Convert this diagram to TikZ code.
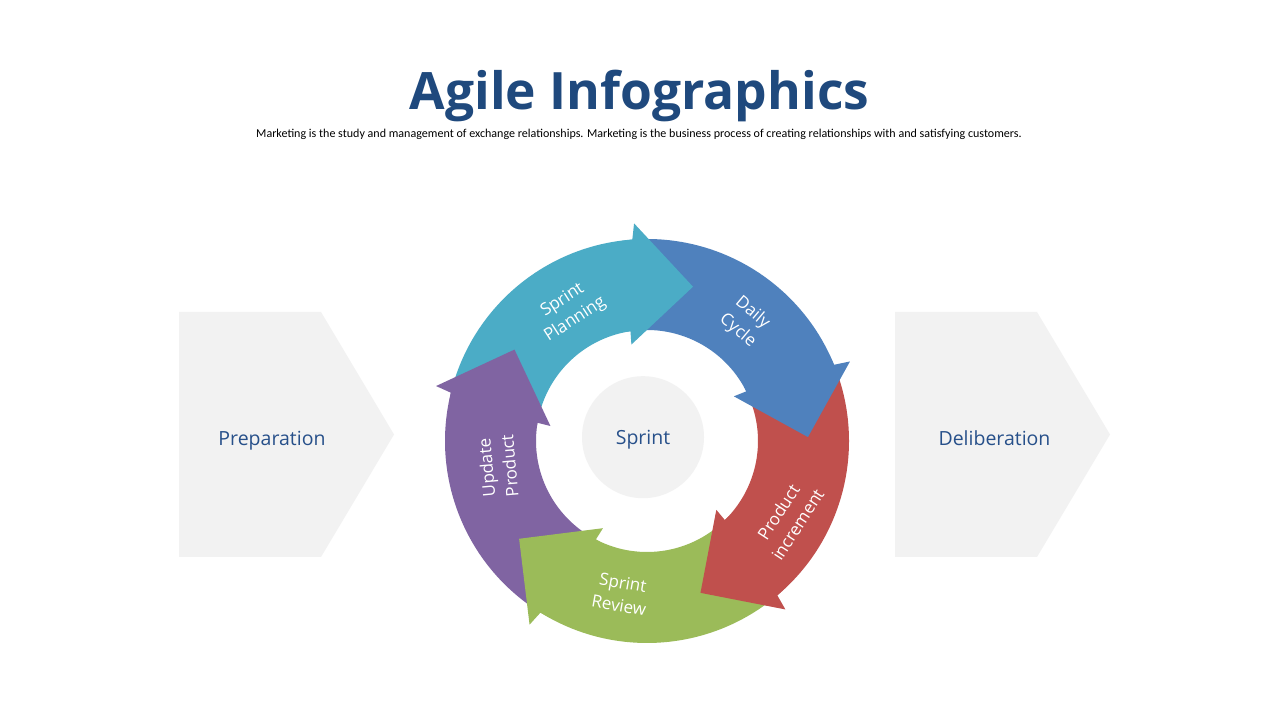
\documentclass[tikz,border=0pt]{standalone}
\usepackage{fontspec}
\setmainfont{Open Sans}
\newfontfamily\subfont{Carlito}
\definecolor{titleblue}{HTML}{1F497D}
\definecolor{labelblue}{HTML}{27508A}
\definecolor{panelgray}{HTML}{F2F2F2}
\definecolor{cyanA}{HTML}{4BACC6}
\definecolor{blueA}{HTML}{4F81BD}
\definecolor{redA}{HTML}{C0504D}
\definecolor{greenA}{HTML}{9BBB59}
\definecolor{purpleA}{HTML}{8064A2}
\tikzset{
  panel/.style={fill=panelgray},
  graylabel/.style={text=labelblue, font=\fontsize{19.5}{23}\selectfont, anchor=base, inner sep=0pt},
  ringlabel/.style={text=white, font=\fontsize{17}{23}\selectfont, align=center, inner sep=0pt}
}
\begin{document}
\begin{tikzpicture}[x=1pt,y=1pt]
\useasboundingbox (0,0) rectangle (1280,720);
\fill[white] (0,0) rectangle (1280,720);

% title and subtitle
\node[text=titleblue, font=\bfseries\fontsize{51.5}{60}\selectfont, anchor=base, inner sep=0pt] (title) at (639.5,610.7) {Agile Infographics};
\node[font=\subfont\fontsize{12.05}{14}\selectfont, anchor=base, inner sep=0pt] (subtitle) at (639,582) {Marketing is the study and management of exchange relationships. Marketing is the business process of creating relationships with and satisfying customers.};

% side panels
\fill[panel] (179,408) -- (321,408) -- (394,285.5) -- (321,163) -- (179,163) -- cycle;
\fill[panel] (895,408) -- (1037,408) -- (1110,285.5) -- (1037,163) -- (895,163) -- cycle;
\node[graylabel] (prep) at (272,274.3) {Preparation};
\node[graylabel] (delib) at (994.5,274.3) {Deliberation};

% circular arrows
\begin{scope}[shift={(647,279)}]
  \foreach \t/\c in {73.4/cyanA, 1.4/blueA, -70.6/redA, -142.6/greenA, -214.6/purpleA} {
    \pgfmathsetmacro\oa{\t+72+20.77}
    \pgfmathsetmacro\ob{\t+18.77}
    \pgfmathsetmacro\ia{\t+23.16}
    \pgfmathsetmacro\ib{\t+72+25.16}
    \fill[\c] (\oa:202) arc[start angle=\oa, end angle=\ob, radius=202pt]
      -- (\ia:111) arc[start angle=\ia, end angle=\ib, radius=111pt] -- cycle;
  }
  \foreach \t/\c in {73.4/cyanA, 1.4/blueA, -70.6/redA, -142.6/greenA, -214.6/purpleA} {
    \pgfmathsetmacro\ha{\t+20}
    \pgfmathsetmacro\hb{\t+25.8}
    \pgfmathsetmacro\hc{\t+25.16}
    \pgfmathsetmacro\hd{\t+28.16}
    \pgfmathsetmacro\he{\t+23.77}
    \pgfmathsetmacro\hf{\t+20.77}
    \fill[\c] (\ha:218) -- (\t:161) -- (\hb:97.7) -- (\hc:111) -- (\hd:111.3)
      -- (\he:201.7) -- (\hf:202) -- cycle;
  }
\end{scope}

% center
\fill[panelgray] (643,282.8) circle[radius=61pt];
\node[graylabel] (sprint) at (643,275) {Sprint};

% ring labels
\node[ringlabel, rotate=33] (lab1) at (569,410) {Sprint\\Planning};
\node[ringlabel, rotate=-40] (lab2) at (745,398.3) {Daily\\Cycle};
\node[ringlabel, rotate=57] (lab3) at (788,201.7) {Product\\increment};
\node[ringlabel, rotate=-10] (lab4) at (621,126) {Sprint\\Review};
\node[ringlabel, rotate=95] (lab5) at (498,253.3) {Update\\Product};
\end{tikzpicture}
\end{document}
